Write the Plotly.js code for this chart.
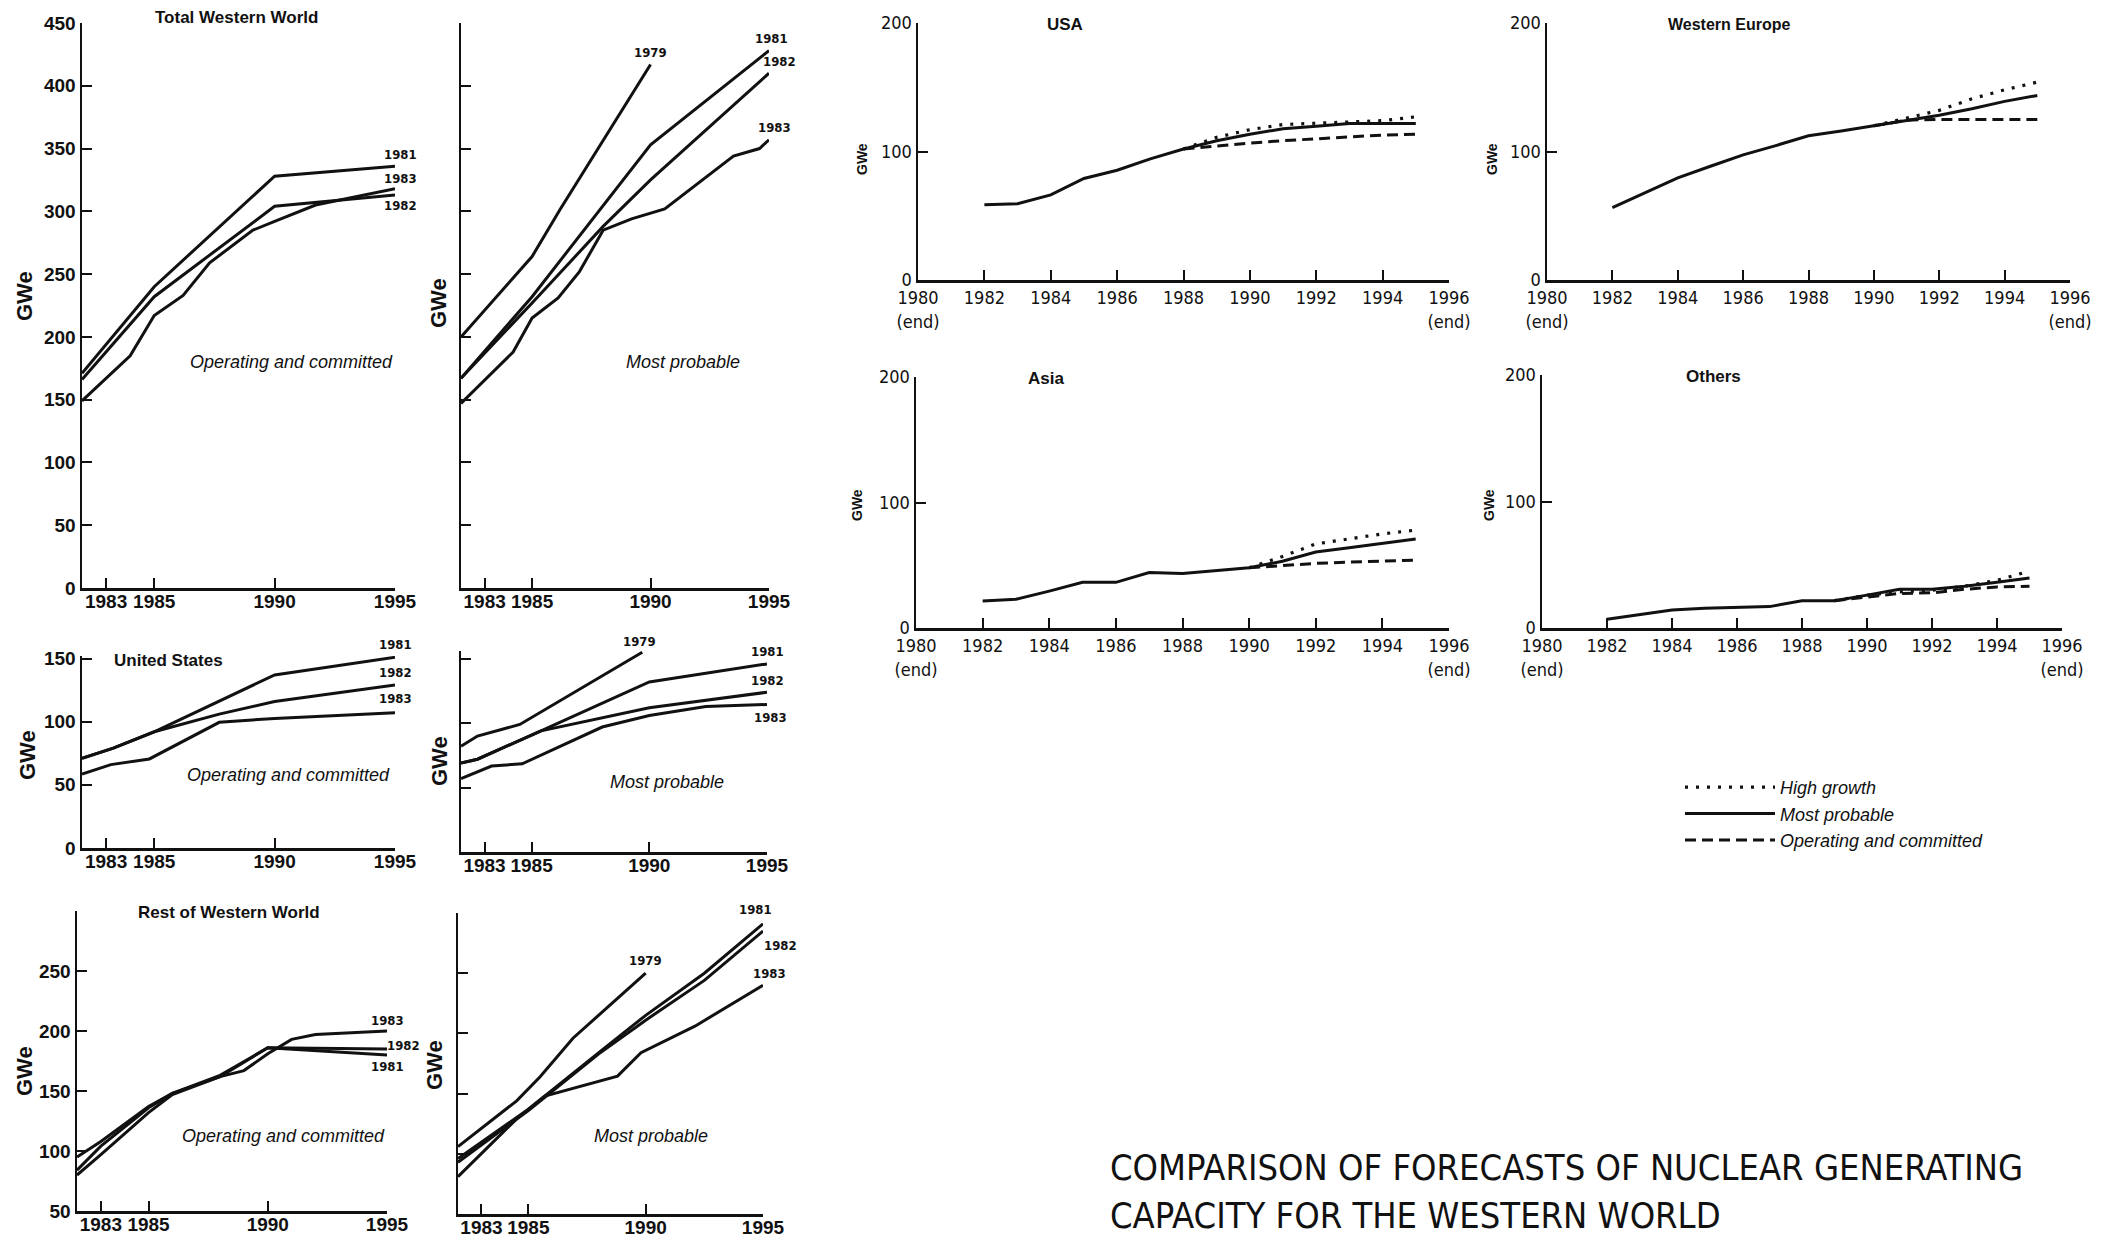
<!DOCTYPE html>
<html><head><meta charset="utf-8">
<script src="https://cdn.plot.ly/plotly-3.0.1.min.js"></script>
<style>html,body{margin:0;padding:0;background:#fff;}#chart{width:2113px;height:1241px;}</style>
</head><body><div id="chart"></div>
<script>
// ---------- DATA ----------
// Total Western World - Operating and committed (forecast vintages)
const twOcX1981 = [1982, 1985, 1990, 1995];
const twOcY1981 = [171, 240, 328, 336];
const twOcX1982 = [1982, 1985, 1990, 1995];
const twOcY1982 = [166, 232, 304, 313];
const twOcX1983 = [1982, 1984, 1985, 1986.2, 1987.3, 1989.1, 1990, 1991.7, 1995];
const twOcY1983 = [149, 185, 217, 233, 259, 285, 292, 305, 318];
// Total Western World - Most probable
const twMpX1979 = [1982, 1985, 1986.2, 1990];
const twMpY1979 = [200, 264, 302, 417];
const twMpX1981 = [1982, 1985, 1990, 1995];
const twMpY1981 = [167, 232, 353, 428];
const twMpX1982 = [1982, 1985, 1988, 1990, 1995];
const twMpY1982 = [167, 227, 288, 325, 410];
const twMpX1983 = [1982, 1984.2, 1985, 1986.1, 1987, 1988, 1989.2, 1990.6, 1993.5, 1994.6, 1995];
const twMpY1983 = [147, 188, 215, 231, 252, 285, 294, 302, 344, 350, 357];
// United States - Operating and committed
const usOcX1981 = [1982, 1983.3, 1985, 1990, 1995];
const usOcY1981 = [71, 79, 92, 137, 151];
const usOcX1982 = [1982, 1983.3, 1985, 1987.7, 1990, 1995];
const usOcY1982 = [71, 79, 92, 106, 116, 129];
const usOcX1983 = [1982, 1983.2, 1984.8, 1987.7, 1990, 1995];
const usOcY1983 = [58.5, 66, 70.5, 99.5, 102.6, 107];
// United States - Most probable
const usMpX1979 = [1982, 1982.7, 1984.5, 1989.7];
const usMpY1979 = [82, 90, 99, 155];
const usMpX1981 = [1982, 1982.7, 1985.4, 1990, 1995];
const usMpY1981 = [69, 72, 94, 132, 146];
const usMpX1982 = [1982, 1982.7, 1985.4, 1990, 1995];
const usMpY1982 = [69, 72, 94, 112, 124];
const usMpX1983 = [1982, 1983.3, 1984.6, 1988, 1990, 1992.4, 1995];
const usMpY1983 = [57, 66.7, 68.5, 97, 106, 113, 114.5];
// Rest of Western World - Operating and committed
const rwOcX1981 = [1982, 1983, 1985, 1986, 1988, 1990, 1995];
const rwOcY1981 = [95, 108, 137, 148, 163, 186, 180];
const rwOcX1982 = [1982, 1983, 1985, 1986, 1988, 1990, 1995];
const rwOcY1982 = [84, 104, 136, 148, 162, 186, 185];
const rwOcX1983 = [1982, 1983, 1985, 1986, 1988, 1989, 1990, 1991, 1992, 1995];
const rwOcY1983 = [80, 97, 132, 147, 162, 167, 181, 193, 197, 200];
// Rest of Western World - Most probable
const rwMpX1979 = [1982, 1984.5, 1985.5, 1986.9, 1990];
const rwMpY1979 = [106, 144, 164, 196, 250];
const rwMpX1981 = [1982, 1985, 1988, 1990, 1992.5, 1995];
const rwMpY1981 = [96, 137, 184, 215, 250, 291];
const rwMpX1982 = [1982, 1985, 1988, 1990, 1992.5, 1995];
const rwMpY1982 = [93, 136, 183, 211, 244, 285];
const rwMpX1983 = [1982, 1984.5, 1985.7, 1988.8, 1989.8, 1992.1, 1995];
const rwMpY1983 = [81, 129, 148, 164.5, 184, 206, 240];

// Regional forecasts (GWe, end of year)
const yearsMp = [1982, 1983, 1984, 1985, 1986, 1987, 1988, 1989, 1990, 1991, 1992, 1993, 1994, 1995];
const usaMp   = [58.6, 59.4, 66.2, 79, 85.4, 94.3, 101.9, 108.3, 113.4, 117.7, 119.7, 121.8, 121.8, 121.8];
const usaYearsAlt = [1988, 1989, 1990, 1991, 1992, 1993, 1994, 1995];
const usaHg   = [102, 111, 117, 121, 122, 123, 124, 127];
const usaOc   = [102, 104.5, 106.6, 108.4, 110, 111.5, 112.8, 113.5];
const weMp    = [56.4, 68, 79.5, 88.5, 97.4, 104.6, 112.3, 115.9, 120, 124.4, 128.2, 133.3, 139, 143.6];
const weYearsAlt = [1990, 1991, 1992, 1993, 1994, 1995];
const weHg    = [120, 126, 132, 141, 148, 154];
const weOc    = [120, 124.4, 125, 125, 125, 125];
const asiaMp  = [21.6, 22.9, 29.4, 36.4, 36.4, 44.2, 43.4, 45.5, 48, 53.2, 60.5, 64, 67.5, 71];
const asiaYearsAlt = [1990, 1991, 1992, 1993, 1994, 1995];
const asiaHg  = [48, 57, 67, 71, 75, 78];
const asiaOc  = [48, 50, 51.5, 52.5, 53.5, 54];
const othMp   = [7, 10.4, 14.3, 15.6, 16.4, 16.9, 21.6, 21.6, 26, 30.6, 30.6, 33, 36.1, 39.5];
const othYearsAlt = [1989, 1990, 1991, 1992, 1993, 1994, 1995];
const othHg   = [21.6, 26, 28.6, 29.9, 33, 37.7, 45];
const othOc   = [21.6, 24.5, 27.3, 27.8, 30.6, 32.5, 33];

// Tick labels
const leftXTicks = [1983, 1985, 1990, 1995];
const rightXTicks = [1980, 1982, 1984, 1986, 1988, 1990, 1992, 1994, 1996];
const rightXTickText = ['1980<br>(end)', '1982', '1984', '1986', '1988', '1990', '1992', '1994', '1996<br>(end)'];
const seriesNames = ['High growth', 'Most probable', 'Operating and committed'];

// ---------- LAYOUT HELPERS ----------
const W = 2113, H = 1241;
const INK = '#111';
const SANS = 'Liberation Sans, Arial, sans-serif';
const NARROW = 'Liberation Sans Narrow, Arial Narrow, DejaVu Sans Condensed, Liberation Sans, sans-serif';
const boxes = {
  1: [82, 395, 23, 588],
  2: [461, 769, 23, 588],
  3: [82, 395, 656, 848],
  4: [461, 767, 651, 852],
  5: [77, 387, 911, 1211],
  6: [458, 763, 913, 1214],
  7: [918, 1449, 23, 280],
  8: [1547, 2070, 23, 280],
  9: [916, 1449, 377, 628],
  10: [1542, 2062, 375, 628]
};
const ax = i => (i === 1 ? '' : String(i));
const px = x => x / W, py = y => 1 - y / H;

const traces = [];
function addLine(i, xs, ys, style, name, legend) {
  const dash = style === 'hg' ? '3px,8px' : (style === 'oc' ? '11px,6px' : 'solid');
  traces.push({
    type: 'scatter', mode: 'lines', x: xs, y: ys,
    xaxis: 'x' + ax(i), yaxis: 'y' + ax(i),
    line: {color: INK, width: style === 'hg' ? 3.2 : 3, dash: dash},
    name: name || '', showlegend: !!legend, hoverinfo: 'skip'
  });
}

// left panels
addLine(1, twOcX1981, twOcY1981); addLine(1, twOcX1982, twOcY1982); addLine(1, twOcX1983, twOcY1983);
addLine(2, twMpX1979, twMpY1979); addLine(2, twMpX1981, twMpY1981); addLine(2, twMpX1982, twMpY1982); addLine(2, twMpX1983, twMpY1983);
addLine(3, usOcX1981, usOcY1981); addLine(3, usOcX1982, usOcY1982); addLine(3, usOcX1983, usOcY1983);
addLine(4, usMpX1979, usMpY1979); addLine(4, usMpX1981, usMpY1981); addLine(4, usMpX1982, usMpY1982); addLine(4, usMpX1983, usMpY1983);
addLine(5, rwOcX1981, rwOcY1981); addLine(5, rwOcX1982, rwOcY1982); addLine(5, rwOcX1983, rwOcY1983);
addLine(6, rwMpX1979, rwMpY1979); addLine(6, rwMpX1981, rwMpY1981); addLine(6, rwMpX1982, rwMpY1982); addLine(6, rwMpX1983, rwMpY1983);
// right panels (legend from USA)
addLine(7, usaYearsAlt, usaHg, 'hg', seriesNames[0], true);
addLine(7, yearsMp, usaMp, 'mp', seriesNames[1], true);
addLine(7, usaYearsAlt, usaOc, 'oc', seriesNames[2], true);
addLine(8, weYearsAlt, weHg, 'hg'); addLine(8, yearsMp, weMp, 'mp'); addLine(8, weYearsAlt, weOc, 'oc');
addLine(9, asiaYearsAlt, asiaHg, 'hg'); addLine(9, yearsMp, asiaMp, 'mp'); addLine(9, asiaYearsAlt, asiaOc, 'oc');
addLine(10, othYearsAlt, othHg, 'hg'); addLine(10, yearsMp, othMp, 'mp'); addLine(10, othYearsAlt, othOc, 'oc');

const layout = {
  width: W, height: H, autosize: false,
  margin: {l: 0, r: 0, t: 0, b: 0, pad: 0},
  paper_bgcolor: '#fff', plot_bgcolor: 'rgba(0,0,0,0)',
  showlegend: true,
  legend: {
    x: px(1680), y: py(769), xanchor: 'left', yanchor: 'top',
    bgcolor: 'rgba(0,0,0,0)', itemwidth: 90, tracegroupgap: 0,
    font: {family: SANS, size: 18, color: INK, style: 'italic'}
  },
  annotations: [], font: {family: SANS, color: INK}
};

const baseAx = {
  showgrid: false, zeroline: false, showline: true, linecolor: INK, linewidth: 2.5,
  ticks: 'inside', ticklen: 10, tickwidth: 2, tickcolor: INK, mirror: false,
  automargin: false, fixedrange: true, tickangle: 0
};
const leftTickFont = {family: SANS, size: 19, color: INK, weight: 'bold'};
const rightTickFont = {family: NARROW, size: 18, color: INK};

const yTicks = {
  1: {range: [0, 450], vals: [0, 50, 100, 150, 200, 250, 300, 350, 400, 450], text: null},
  2: {range: [0, 450], vals: [0, 50, 100, 150, 200, 250, 300, 350, 400, 450], text: null},
  3: {range: [0, 152], vals: [0, 50, 100, 150], text: null},
  4: {range: [0, 156], vals: [0, 50, 100, 150], text: null},
  5: {range: [50, 300], vals: [50, 100, 150, 200, 250, 300], text: ['50', '100', '150', '200', '250', '']},
  6: {range: [50, 300], vals: [50, 100, 150, 200, 250, 300], text: null}
};

for (let i = 1; i <= 10; i++) {
  const b = boxes[i];
  const xa = Object.assign({}, baseAx, {domain: [px(b[0]), px(b[1])], anchor: 'y' + ax(i)});
  const ya = Object.assign({}, baseAx, {domain: [py(b[3]), py(b[2])], anchor: 'x' + ax(i)});
  if (i <= 6) {
    Object.assign(xa, {range: [1982, 1995], tickmode: 'array', tickvals: leftXTicks, tickfont: leftTickFont,
      ticklabelstandoff: -5});
    const t = yTicks[i];
    Object.assign(ya, {range: t.range, tickmode: 'array', tickvals: t.vals, tickfont: leftTickFont,
      showticklabels: i % 2 === 1});
    if (t.text) ya.ticktext = t.text;
  } else {
    Object.assign(xa, {range: [1980, 1996], tickmode: 'array', tickvals: rightXTicks, ticktext: rightXTickText, tickfont: rightTickFont});
    Object.assign(ya, {range: [0, 200], tickmode: 'array', tickvals: [0, 100, 200], tickfont: rightTickFont});
  }
  layout['xaxis' + ax(i)] = xa;
  layout['yaxis' + ax(i)] = ya;
}

const A = layout.annotations;
function note(xp, yp, text, size, opts) {
  A.push(Object.assign({xref: 'paper', yref: 'paper', x: px(xp), y: py(yp), text: text, showarrow: false,
    xanchor: 'center', yanchor: 'middle', font: {family: SANS, size: size, color: INK}}, opts || {}));
}
// panel names
note(236, 18, '<b>Total Western World</b>', 17);
note(168, 660, '<b>United States</b>', 17);
note(229, 912, '<b>Rest of Western World</b>', 17);
note(1065, 25, '<b>USA</b>', 17);
note(1729, 25, '<b>Western Europe</b>', 16);
note(1046, 378, '<b>Asia</b>', 17);
note(1713, 376, '<b>Others</b>', 17);
// sub-titles
note(291, 362, '<i>Operating and committed</i>', 18);
note(683, 362, '<i>Most probable</i>', 18);
note(288, 775, '<i>Operating and committed</i>', 18);
note(667, 782, '<i>Most probable</i>', 18);
note(283, 1136, '<i>Operating and committed</i>', 18);
note(651, 1136, '<i>Most probable</i>', 18);
// GWe axis labels
[[24, 296], [439, 303], [27, 755], [439, 761], [24, 1071], [434, 1065]].forEach(p =>
  note(p[0], p[1], '<b>GWe</b>', 22, {textangle: -90}));
[[862, 159], [1492, 159], [857, 505], [1489, 505]].forEach(p =>
  note(p[0], p[1], '<b>GWe</b>', 14, {textangle: -90}));
// chart title
note(1108, 1167, 'COMPARISON OF FORECASTS OF NUCLEAR GENERATING', 36, {xanchor: 'left', font: {family: NARROW, size: 36, color: INK}});
note(1108, 1215, 'CAPACITY FOR THE WESTERN WORLD', 36, {xanchor: 'left', font: {family: NARROW, size: 36, color: INK}});

// forecast-year labels at line ends
function endLabel(i, xs, ys, text, dx, dy) {
  A.push({xref: 'x' + ax(i), yref: 'y' + ax(i), x: xs[xs.length - 1], y: ys[ys.length - 1], text: '<b>' + text + '</b>',
    showarrow: false, xshift: dx, yshift: dy, xanchor: 'center', yanchor: 'middle',
    font: {family: NARROW, size: 13, color: INK}});
}
endLabel(1, twOcX1981, twOcY1981, '1981', 5, 12);
endLabel(1, twOcX1983, twOcY1983, '1983', 5, 10);
endLabel(1, twOcX1982, twOcY1982, '1982', 5, -10);
endLabel(2, twMpX1979, twMpY1979, '1979', 0, 12);
endLabel(2, twMpX1981, twMpY1981, '1981', 2, 12);
endLabel(2, twMpX1982, twMpY1982, '1982', 10, 12);
endLabel(2, twMpX1983, twMpY1983, '1983', 5, 12);
endLabel(3, usOcX1981, usOcY1981, '1981', 0, 13);
endLabel(3, usOcX1982, usOcY1982, '1982', 0, 13);
endLabel(3, usOcX1983, usOcY1983, '1983', 0, 14);
endLabel(4, usMpX1979, usMpY1979, '1979', -3, 11);
endLabel(4, usMpX1981, usMpY1981, '1981', 0, 12);
endLabel(4, usMpX1982, usMpY1982, '1982', 0, 12);
endLabel(4, usMpX1983, usMpY1983, '1983', 3, -13);
endLabel(5, rwOcX1983, rwOcY1983, '1983', 0, 11);
endLabel(5, rwOcX1982, rwOcY1982, '1982', 16, 4);
endLabel(5, rwOcX1981, rwOcY1981, '1981', 0, -11);
endLabel(6, rwMpX1981, rwMpY1981, '1981', -8, 14);
endLabel(6, rwMpX1982, rwMpY1982, '1982', 17, -14);
endLabel(6, rwMpX1979, rwMpY1979, '1979', 0, 13);
endLabel(6, rwMpX1983, rwMpY1983, '1983', 6, 12);

Plotly.newPlot('chart', traces, layout, {displayModeBar: false, staticPlot: true});
</script></body></html>
